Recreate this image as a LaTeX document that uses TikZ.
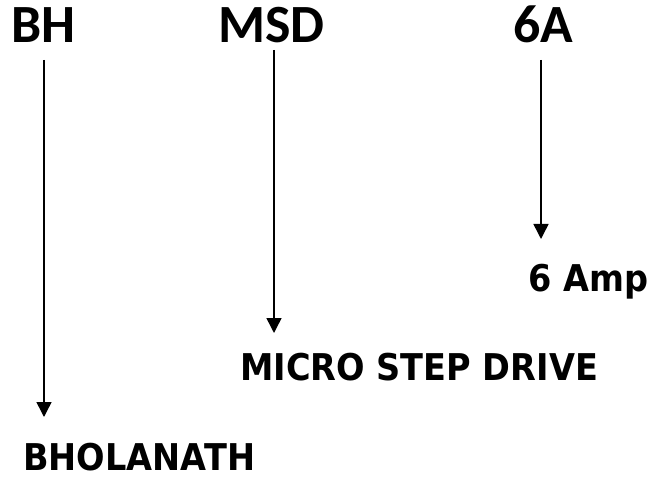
\documentclass[tikz,border=0pt]{standalone}
\usepackage{fontspec}
\newfontfamily\toplblfont{Carlito}
\newfontfamily\lowlblfont[FakeStretch=0.91]{DejaVu Sans}
\usepackage{tikz}
\usetikzlibrary{arrows.meta,positioning}

\tikzset{
  abbr/.style={font=\toplblfont\bfseries\fontsize{54}{54}\selectfont, inner sep=0pt, anchor=base west},
  full/.style={font=\lowlblfont\bfseries\fontsize{37}{37}\selectfont, inner sep=0pt, anchor=base west},
  arr/.style={line width=1.5bp, -{Triangle[length=15bp,width=15bp]}}
}

\begin{document}
\begin{tikzpicture}[x=1bp,y=-1bp]
\useasboundingbox (0,0) rectangle (649,477);
% short names on top
\node[abbr] (bh) at (11,43) {BH};
\node[abbr] (msd) at (218,43) {MSD};
\node[abbr] (sixa) at (513,43) {6A};
% what they stand for
\node[full] (amp) at (528,291) {6 Amp};
\node[full] (msdrive) at (240,380) {MICRO STEP DRIVE};
\node[full] (bhol) at (23,470) {BHOLANATH};
% arrow ends
\coordinate (bh-s) at (44,60);
\coordinate (bhol-n) at (44,417);
\coordinate (msd-s) at (274,50);
\coordinate (msdrive-n) at (274,333);
\coordinate (sixa-s) at (541,60);
\coordinate (amp-n) at (541,239);
\draw[arr] (bh-s) -- (bhol-n);
\draw[arr] (msd-s) -- (msdrive-n);
\draw[arr] (sixa-s) -- (amp-n);
\end{tikzpicture}
\end{document}
